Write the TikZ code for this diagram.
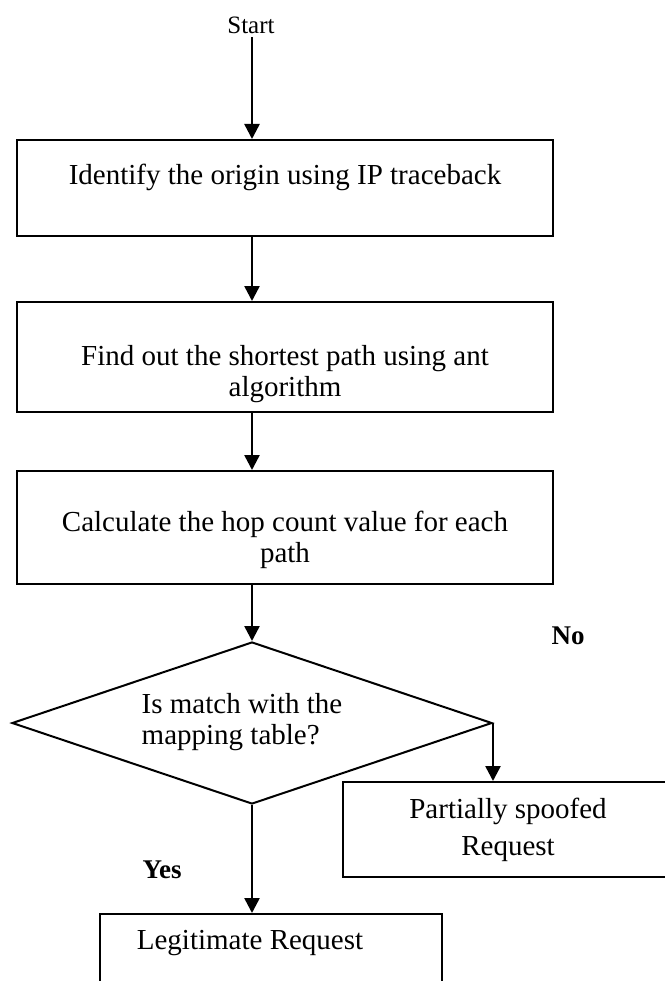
\documentclass[tikz,border=0pt]{standalone}
\usepackage{fontspec}
\setmainfont{Liberation Serif}
\usetikzlibrary{arrows.meta,shapes.geometric}

\begin{document}
\begin{tikzpicture}[x=1pt, y=-1pt,
  box/.style={draw, line width=2pt, minimum width=536pt},
  txt/.style={align=center, font=\fontsize{29}{31}\selectfont},
  decision/.style={draw, diamond, line width=2pt, minimum width=480pt, minimum height=162pt, inner sep=0pt},
  flow/.style={line width=2.5pt, -{Triangle[length=15pt,width=15pt]}},
  answer/.style={font=\fontsize{27}{30}\selectfont\bfseries}]
\useasboundingbox (0,0) rectangle (664,981);

\node[font=\fontsize{25}{28}\selectfont] (st) at (251,25) {Start};

\node[box, minimum height=96pt]  (b1) at (285,188) {};
\node[txt] (t1) at (285,177) {Identify the origin using IP traceback};
\node[box, minimum height=110pt] (b2) at (285,357) {};
\node[txt] (t2) at (285,374) {Find out the shortest path using ant\\algorithm};
\node[box, minimum height=113pt] (b3) at (285,527.5) {};
\node[txt] (t3) at (285,540) {Calculate the hop count value for each\\path};

\node[decision] (dia) at (252,723) {};
\node[txt, align=left] (q) at (242,722) {Is match with the\\mapping table?};

\node[box, minimum width=330pt, minimum height=95pt] (b4) at (508,829.5) {};
\node[txt, font=\fontsize{29}{37}\selectfont] (t4) at (508,829.5) {Partially spoofed\\Request};
\node[box, minimum width=342pt, minimum height=130pt, anchor=north] (b5) at (271,913) {};
\node[txt] (t5) at (250,943) {Legitimate Request};

\node[answer] (no)  at (568,636) {No};
\node[answer] (yes) at (162,870) {Yes};

\draw[flow] (st.south -| dia.north) -- (dia.north |- b1.north);
\draw[flow] (dia.north |- b1.south) -- (dia.north |- b2.north);
\draw[flow] (dia.north |- b2.south) -- (dia.north |- b3.north);
\draw[flow] (dia.north |- b3.south) -- (dia.north);
\draw[flow] (dia.east) -- (dia.east |- b4.north);
\draw[flow] (dia.south) -- (dia.south |- b5.north);
\end{tikzpicture}
\end{document}
